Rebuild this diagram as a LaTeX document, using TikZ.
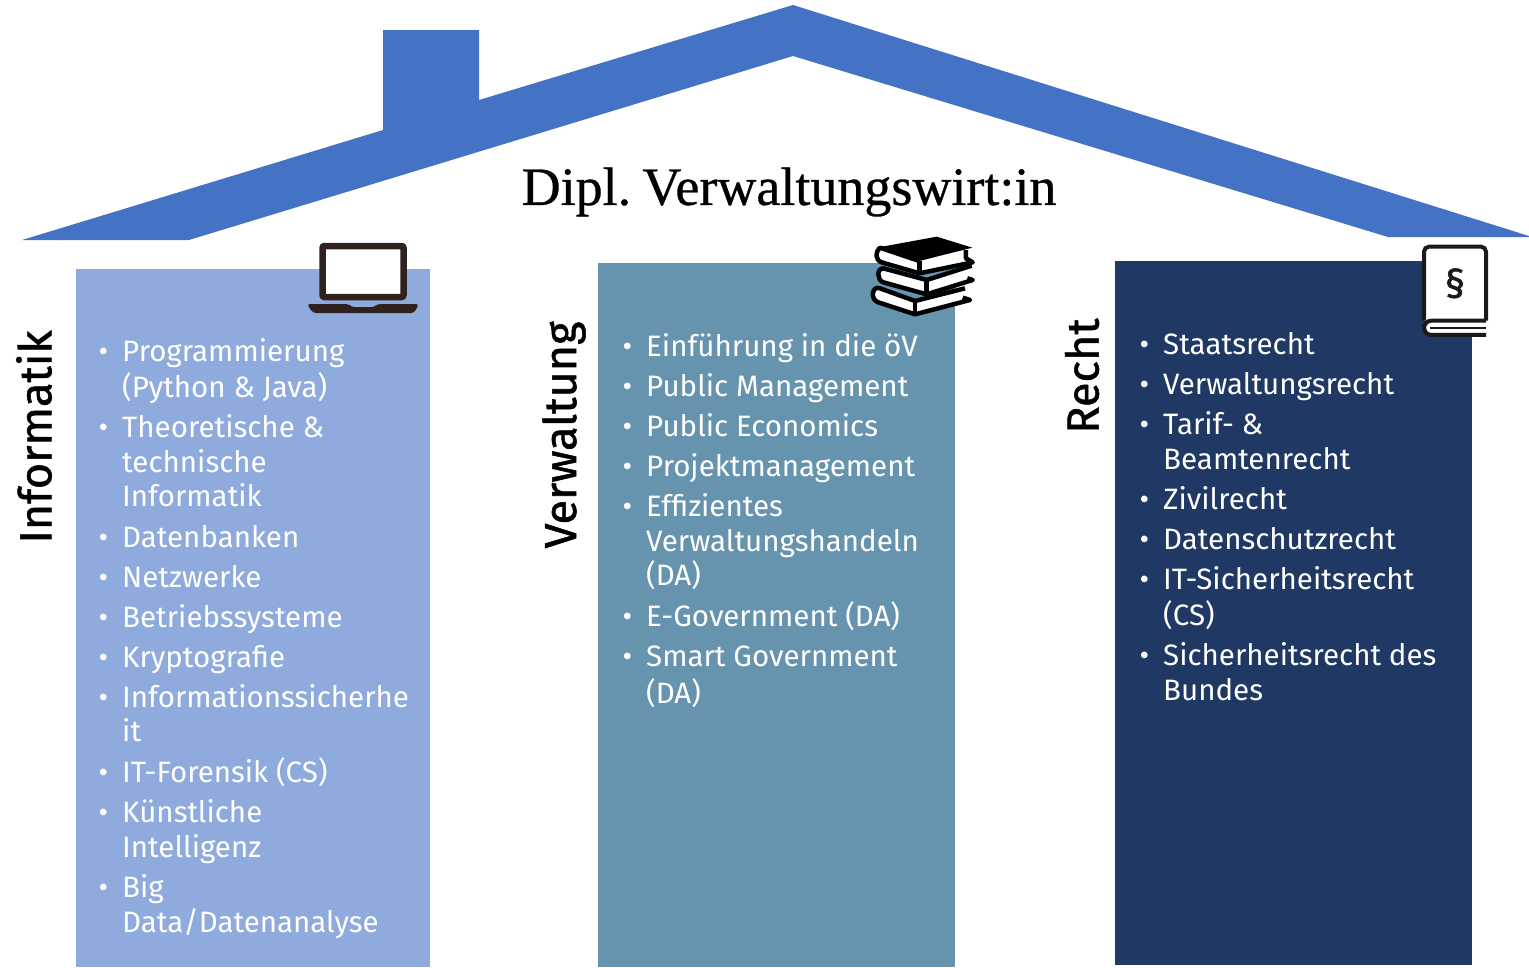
\documentclass[tikz,border=0pt]{standalone}
\usepackage{fontspec}
\setmainfont{Fira Sans}
\newfontfamily\titlefont[WordSpace=0.5,FakeBold=0.6]{Liberation Serif}
\newfontfamily\sidefont[FakeBold=1.2]{Fira Sans}
\usetikzlibrary{positioning}

\definecolor{roofblue}{HTML}{4472C4}
\definecolor{infblue}{HTML}{8FAADC}
\definecolor{verblue}{HTML}{6694AF}
\definecolor{recblue}{HTML}{1F3864}
\definecolor{iconbrown}{HTML}{2E211E}
\definecolor{iconblack}{HTML}{1A1A1A}

\newcommand{\bulletline}[1]{\strut\llap{•\hspace{14pt}}#1\strut}

\tikzset{
    colbox/.style={anchor=north west,inner sep=0pt,minimum width=#1},
    itemtext/.style={inner sep=0pt,align=left,text=white,
        font=\fontsize{29.5}{34.5}\selectfont},
    sidelabel/.style={rotate=90,inner sep=0pt,font=\sidefont\fontsize{45}{50}\selectfont}
}

\begin{document}
\begin{tikzpicture}[x=1pt,y=-1pt]
    \useasboundingbox (0,0) rectangle (1529,967);

    % roof
    \fill[roofblue] (22,240) -- (383,130) -- (383,30) -- (479,30) -- (479,100) -- (793,5)
        -- (1529,236) -- (1529,237) -- (1388,237) -- (793,56) -- (189,240) -- cycle;
    \node[inner sep=0pt,font=\titlefont\fontsize{54}{60}\selectfont] (title) at (789,192) {Dipl. Verwaltungswirt:in};

    % columns
    \node[colbox=354pt,fill=infblue,minimum height=698pt] (inf) at (76,269) {};
    \node[colbox=357pt,fill=verblue,minimum height=704pt] (ver) at (598,263) {};
    \node[colbox=357pt,fill=recblue,minimum height=704pt] (rec) at (1115,261) {};

    \node[sidelabel] (inflabel) at (34,437) {Informatik};
    \node[sidelabel] (verlabel) at (564,435) {Verwaltung};
    \node[sidelabel] (reclabel) at (1082,376) {Recht};

    % lists
    \coordinate (inf0) at (122,332);
    \foreach \t [count=\n, remember=\n as \p (initially 0)] in {Programmierung\\(Python \& Java),
        Theoretische \&\\technische\\Informatik,Datenbanken,Netzwerke,Betriebssysteme,Kryptografie,
        Informationssicherhe\\it,IT-Forensik (CS),Künstliche\\Intelligenz,Big\\Data/Datenanalyse}
        \node[itemtext,below right=5.2pt and 0pt of inf\p.south west] (inf\n) {\bulletline{\t}};

    \coordinate (ver0) at (646,327);
    \foreach \t [count=\n, remember=\n as \p (initially 0)] in {Einführung in die öV,Public Management,
        Public Economics,Projektmanagement,Effizientes\\Verwaltungshandeln\\(DA),
        E-Government (DA),Smart Government\\(DA)}
        \node[itemtext,below right=5.2pt and 0pt of ver\p.south west] (ver\n) {\bulletline{\t}};

    \coordinate (rec0) at (1163,325);
    \foreach \t [count=\n, remember=\n as \p (initially 0)] in {Staatsrecht,Verwaltungsrecht,
        Tarif- \&\\Beamtenrecht,Zivilrecht,Datenschutzrecht,IT-Sicherheitsrecht\\(CS),
        Sicherheitsrecht des\\Bundes}
        \node[itemtext,below right=5.2pt and 0pt of rec\p.south west] (rec\n) {\bulletline{\t}};

    % laptop
    \draw[iconbrown,fill=white,line width=6.5pt,rounded corners=2pt] (322.5,246) rectangle (403.5,297);
    \fill[iconbrown,rounded corners=3pt] (307,304) -- (349,304) -- (351,307) -- (375,307) -- (377,304)
        -- (419,304) -- (414,313) -- (313,313) -- cycle;

    % books
    \begin{scope}[shift={(860,225)},x=.3333pt,y=-.3333pt,line width=4.5pt,line join=round]
        \draw[fill=white] (315,190) -- (165,228) -- (60,190) .. controls (35,180) and (30,225) .. (55,232)
            -- (165,268) -- (330,225) -- (308,218);
        \draw[fill=white] (335,122) -- (200,165) -- (70,130) .. controls (50,130) and (50,165) .. (70,172)
            -- (200,208) -- (338,165) -- (322,160);
        \draw[fill=white] (178,108) -- (60,68) .. controls (45,80) and (45,105) .. (65,112)
            -- (178,145) -- (338,112) -- (318,100) -- (318,75);
        \fill (50,68) -- (230,35) -- (337,68) -- (178,108) -- cycle;
        \draw (178,108) -- (178,145) (200,165) -- (200,208) (165,228) -- (165,268);
    \end{scope}

    % law book
    \begin{scope}[shift={(1400,230)},x=.3333pt,y=-.3333pt,line width=4pt,iconblack]
        \draw[fill=white,rounded corners=5pt] (72,272) -- (72,50) -- (258,50) -- (258,272);
        \draw[fill=white] (258,272) -- (95,272) .. controls (65,272) and (65,315) .. (95,315) -- (258,315);
        \draw[line width=2pt] (90,294) -- (258,294);
        \node[inner sep=0pt,text=iconblack,font=\sidefont\fontsize{40}{44}\selectfont] (para) at (165,160) {§};
    \end{scope}
\end{tikzpicture}
\end{document}
